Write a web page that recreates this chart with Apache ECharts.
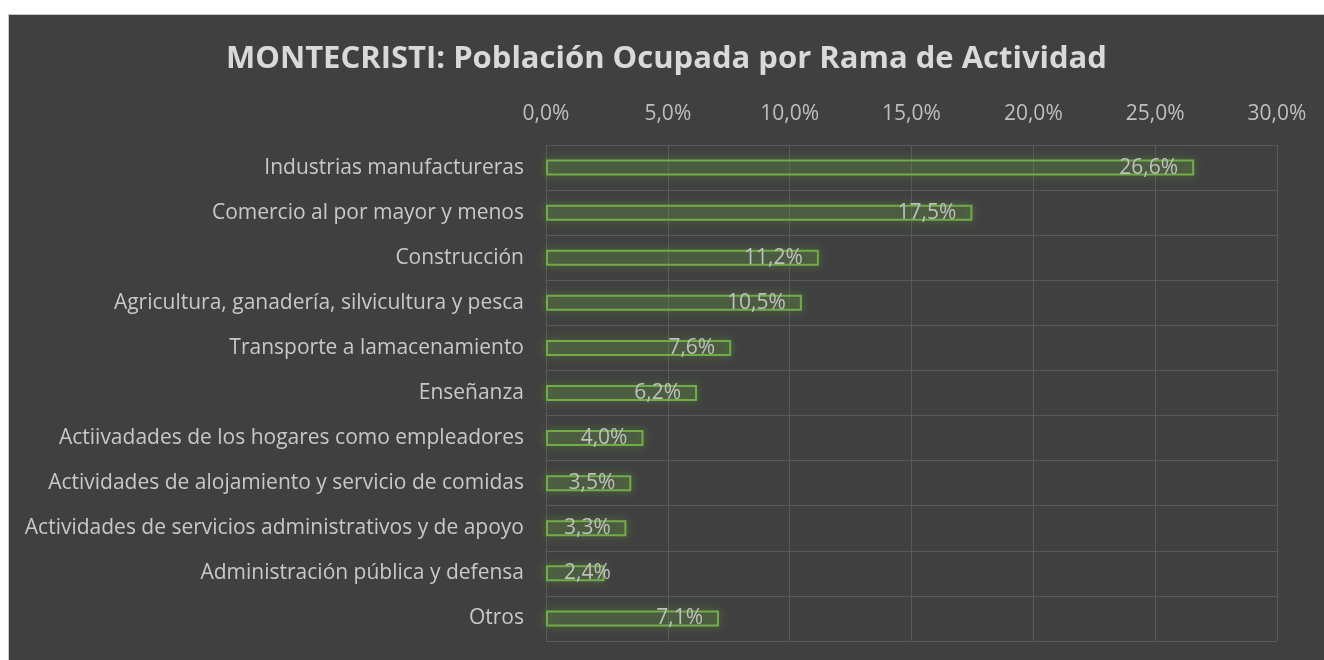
<!DOCTYPE html>
<html>
<head>
<meta charset="utf-8">
<script src="https://cdn.jsdelivr.net/npm/echarts@6/dist/echarts.min.js"></script>
<style>
  html, body { margin: 0; padding: 0; background: #ffffff; }
  #chart {
    position: absolute;
    left: 8px;
    top: 14px;
    width: 1316px;
    height: 646px;
    background: #404040;
    border-left: 1px solid #c8c8c8;
    border-top: 1px solid #c8c8c8;
    box-sizing: border-box;
  }
</style>
</head>
<body>
<div id="chart"></div>
<script>
const categories = [
  'Industrias manufactureras',
  'Comercio al por mayor y menos',
  'Construcción',
  'Agricultura, ganadería, silvicultura y pesca',
  'Transporte a lamacenamiento',
  'Enseñanza',
  'Actiivadades de los hogares como empleadores',
  'Actividades de alojamiento y servicio de comidas',
  'Actividades de servicios administrativos y de apoyo',
  'Administración pública y defensa',
  'Otros'
];
const shares = [26.6, 17.5, 11.2, 10.5, 7.6, 6.2, 4.0, 3.5, 3.3, 2.4, 7.1];
const axisMax = 30;
const axisStep = 5;

const fmt = v => v.toFixed(1).replace('.', ',') + '%';
const fontFamily = "'Open Sans', 'Noto Sans', sans-serif";

const chart = echarts.init(document.getElementById('chart'));
chart.setOption({
  backgroundColor: '#404040',
  textStyle: { fontFamily },
  title: {
    text: 'MONTECRISTI: Población Ocupada por Rama de Actividad',
    left: 'center',
    top: 24,
    textStyle: { color: '#d9d9d9', fontSize: 31, fontWeight: 'bold', fontFamily }
  },
  grid: { left: 537, right: 47, top: 130, bottom: 19 },
  xAxis: {
    type: 'value',
    position: 'top',
    min: 0,
    max: axisMax,
    interval: axisStep,
    axisLine: { show: false },
    axisTick: { show: false },
    axisLabel: { color: '#bfbfbf', fontSize: 21, margin: 20, formatter: fmt },
    splitLine: { lineStyle: { color: '#595959', width: 1 } }
  },
  yAxis: {
    type: 'category',
    inverse: true,
    data: categories,
    axisLine: { show: false },
    axisTick: { show: false },
    axisLabel: { color: '#c8c8c8', fontSize: 21, margin: 22 },
    splitLine: { show: true, lineStyle: { color: '#595959', width: 1 } }
  },
  series: [{
    type: 'bar',
    data: shares,
    barWidth: 16,
    itemStyle: {
      color: 'rgba(112,173,71,0.12)',
      borderColor: '#70ad47',
      borderWidth: 2,
      shadowBlur: 10,
      shadowColor: 'rgba(112,173,71,0.75)'
    },
    label: {
      show: true,
      position: 'insideRight',
      distance: 16,
      offset: [0, 2],
      color: '#bfbfbf',
      fontSize: 21,
      formatter: p => fmt(p.value)
    },
    // keep short labels from spilling left of the axis
    labelLayout: p => (p.labelRect.x < 555 ? { dx: 555 - p.labelRect.x } : {})
  }]
});
</script>
</body>
</html>
